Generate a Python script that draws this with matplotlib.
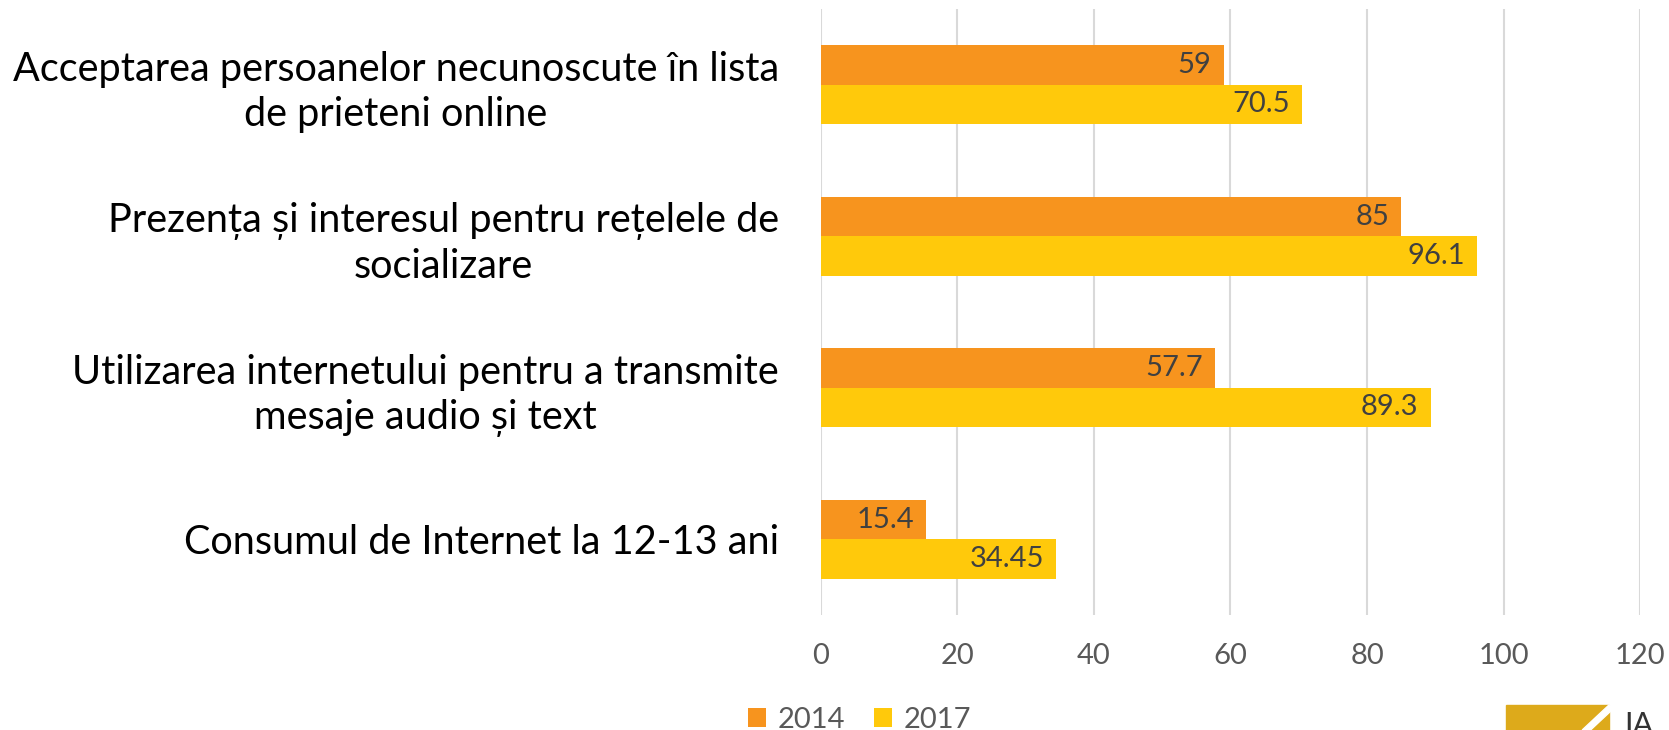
import matplotlib.pyplot as plt
import matplotlib.patches as mpatches
import numpy as np

plt.rcParams['font.family'] = ['Lato', 'DejaVu Sans']

categories = [
    'Acceptarea persoanelor necunoscute în lista\nde prieteni online',
    'Prezența și interesul pentru rețelele de\nsocializare',
    'Utilizarea internetului pentru a transmite\nmesaje audio și text',
    'Consumul de Internet la 12-13 ani',
]
vals_2014 = [59, 85, 57.7, 15.4]
vals_2017 = [70.5, 96.1, 89.3, 34.45]
labels_2014 = ['59', '85', '57.7', '15.4']
labels_2017 = ['70.5', '96.1', '89.3', '34.45']
xticks = [0, 20, 40, 60, 80, 100, 120]

orange = '#F7941E'
yellow = '#FFC90B'

fig = plt.figure(figsize=(16.69, 7.30), dpi=100)
ax = fig.add_axes([0.4917, 0.1575, 0.4911, 0.8302])

y = np.arange(len(categories))
h = 0.26
b1 = ax.barh(y - h / 2, vals_2014, height=h, color=orange, label='2014', zorder=2)
b2 = ax.barh(y + h / 2, vals_2017, height=h, color=yellow, label='2017', zorder=2)

for bars, labs in ((b1, labels_2014), (b2, labels_2017)):
    for bar, lab in zip(bars, labs):
        ax.annotate(lab, (bar.get_width(), bar.get_y() + bar.get_height() / 2),
                    xytext=(-12, 0), textcoords='offset pixels',
                    ha='right', va='center', fontsize=21, color='#404040', zorder=3)

ax.set_xlim(0, 120)
ax.set_ylim(3.5, -0.5)
ax.set_xticks(xticks)
ax.set_xticklabels([str(t) for t in xticks])
ax.set_yticks(y)
ax.set_yticklabels(categories, ha='right', multialignment='center', fontsize=28.5,
                   color='black', linespacing=1.25)
ax.tick_params(axis='y', length=0, pad=30)
ax.tick_params(axis='x', length=0, pad=20, labelsize=21, labelcolor='#595959')
ax.grid(axis='x', color='#D9D9D9', linewidth=1.5, zorder=0)
for s in ax.spines.values():
    s.set_visible(False)

fig.legend(handles=[b1, b2], loc='center', bbox_to_anchor=(0.515, 0.014), ncol=2,
           frameon=False, fontsize=21, handlelength=0.6, handleheight=0.6,
           handletextpad=0.4, columnspacing=1.0, labelcolor='#595959')

# logo fragment bottom right
fig.patches.append(mpatches.Polygon([[0.9025, 0.0], [0.9025, 0.0342], [0.964, 0.0342], [0.964, 0.0]],
                                    closed=True, transform=fig.transFigure, color='#DDAA1B'))
fig.patches.append(mpatches.Polygon([[0.948, 0.0], [0.964, 0.0342], [0.969, 0.0342], [0.953, 0.0]],
                                    closed=True, transform=fig.transFigure, color='white'))
fig.text(0.973, -0.012, 'IA', fontsize=22, color='#333333', ha='left', va='bottom')

fig.savefig('out.png', dpi=100)
